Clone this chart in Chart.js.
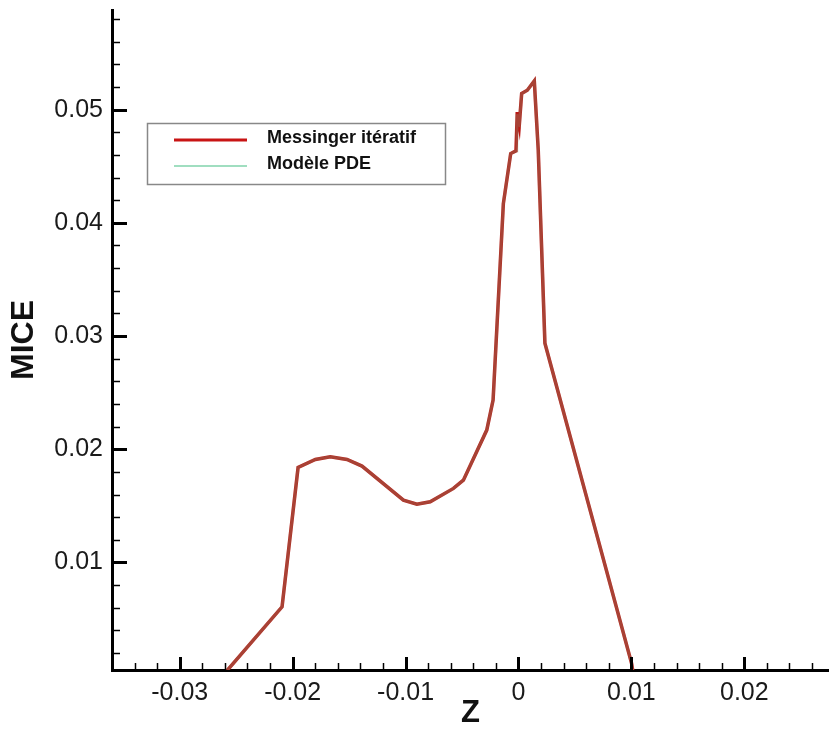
<meta charset="UTF-8">
<style>
    body { margin: 0; background: #fff; }
</style>

<canvas id="myChart" width="829" height="729"></canvas>

<script src="https://cdn.jsdelivr.net/npm/chart.js@4/dist/chart.umd.min.js"></script>

<script>
    // values
    var zMessinger = [-0.0262, -0.02094, -0.01952, -0.01799, -0.01667, -0.01519, -0.01386, -0.01019, -0.00900, -0.00782,
                      -0.00576, -0.00488, -0.00281, -0.00225, -0.00134, -0.00069, -0.00022, -0.00011, 0.00007, 0.00028,
                      0.00078, 0.00140, 0.00175, 0.00234, 0.01001, 0.0102];
    var miceMessinger = [0.0, 0.00608, 0.01839, 0.01910, 0.01933, 0.01910, 0.01851, 0.01551, 0.01515, 0.01536,
                         0.01654, 0.01727, 0.02169, 0.02434, 0.04170, 0.04612, 0.04635, 0.04979, 0.04862, 0.05142,
                         0.05171, 0.05253, 0.04641, 0.02937, 0.00111, 0.0];

    var zPDE = [-0.0262, -0.02094, -0.01952, -0.01799, -0.01667, -0.01519, -0.01386, -0.01019, -0.00900, -0.00782,
                -0.00576, -0.00488, -0.00281, -0.00225, -0.00134, -0.00069, -0.00022, -0.00014, -0.00008, 0.00007,
                0.00028, 0.00078, 0.00140, 0.00175, 0.00234, 0.01001, 0.0102];
    var micePDE = [0.0, 0.00608, 0.01839, 0.01910, 0.01933, 0.01910, 0.01851, 0.01551, 0.01515, 0.01536,
                   0.01654, 0.01727, 0.02169, 0.02434, 0.04170, 0.04612, 0.04635, 0.04960, 0.04870, 0.04862,
                   0.05142, 0.05171, 0.05253, 0.04641, 0.02937, 0.00111, 0.0];

    var xTickValues = [-0.03, -0.02, -0.01, 0, 0.01, 0.02];
    var yTickValues = [0.01, 0.02, 0.03, 0.04, 0.05];
    var seriesNames = ['Messinger itératif', 'Modèle PDE'];

    function toPoints(xs, ys) {
        return xs.map(function (x, i) { return {x: x, y: ys[i]}; });
    }

    // tecplot style inward ticks, major + minor
    var tickPlugin = {
        id: 'inwardTicks',
        afterDatasetsDraw: function (chart) {
            var ctx = chart.ctx;
            var xs = chart.scales.x, ys = chart.scales.y;
            var area = chart.chartArea;
            ctx.save();
            ctx.strokeStyle = '#000';
            for (var i = -18; i <= 13; i++) {
                var v = i * 0.002;
                if (v < xs.min || v > xs.max) continue;
                var px = Math.round(xs.getPixelForValue(v)) + 0.5;
                var major = (i % 5 === 0);
                ctx.lineWidth = major ? 3 : 1.5;
                ctx.beginPath();
                ctx.moveTo(px, area.bottom);
                ctx.lineTo(px, area.bottom - (major ? 13 : 7));
                ctx.stroke();
            }
            for (var j = 1; j <= 29; j++) {
                var w = j * 0.002;
                if (w < ys.min || w > ys.max) continue;
                var py = Math.round(ys.getPixelForValue(w)) + 0.5;
                var maj = (j % 5 === 0);
                ctx.lineWidth = maj ? 3 : 1.5;
                ctx.beginPath();
                ctx.moveTo(area.left, py);
                ctx.lineTo(area.left + (maj ? 15 : 8), py);
                ctx.stroke();
            }
            ctx.restore();
        }
    };

    // legend box placed inside the plot like the original
    var legendPlugin = {
        id: 'boxLegend',
        afterDraw: function (chart) {
            var ctx = chart.ctx;
            var colors = ['rgb(200,20,20)', 'rgb(160,222,192)'];
            var widths = [3, 2];
            var rows = [140, 166];
            ctx.save();
            ctx.fillStyle = '#fff';
            ctx.fillRect(147.5, 123.5, 298, 61);
            ctx.strokeStyle = '#888';
            ctx.lineWidth = 1.5;
            ctx.strokeRect(147.5, 123.5, 298, 61);
            ctx.font = 'bold 18px "Liberation Sans", Arial, sans-serif';
            ctx.textBaseline = 'middle';
            ctx.fillStyle = '#111';
            chart.data.datasets.forEach(function (ds, i) {
                ctx.strokeStyle = colors[i];
                ctx.lineWidth = widths[i];
                ctx.beginPath();
                ctx.moveTo(174, rows[i]);
                ctx.lineTo(247, rows[i]);
                ctx.stroke();
                ctx.fillText(ds.label, 267, rows[i] - 2);
            });
            ctx.restore();
        }
    };

    function displayChart() {
        var ctx = document.getElementById('myChart').getContext('2d');
        var chart = new Chart(ctx, {
            type: 'scatter',
            data: {
                datasets: [
                    {
                        label: seriesNames[0],
                        data: toPoints(zMessinger, miceMessinger),
                        showLine: true,
                        borderColor: 'rgb(185,25,20)',
                        borderWidth: 3.5,
                        pointRadius: 0,
                        order: 1
                    },
                    {
                        label: seriesNames[1],
                        data: toPoints(zPDE, micePDE),
                        showLine: true,
                        borderColor: 'rgba(120,190,150,0.25)',
                        borderWidth: 3,
                        pointRadius: 0,
                        order: 0
                    }
                ]
            },
            options: {
                responsive: false,
                animation: false,
                layout: { padding: { top: 10, right: 0, left: 0, bottom: 0 } },
                plugins: { legend: { display: false }, tooltip: { enabled: false } },
                scales: {
                    x: {
                        type: 'linear',
                        min: -0.036,
                        max: 0.0275,
                        afterFit: function (s) {
                            s.height = 59;
                            s.paddingLeft = 0;
                            s.paddingRight = 0;
                        },
                        afterBuildTicks: function (s) {
                            s.ticks = xTickValues.map(function (v) { return {value: v}; });
                        },
                        grid: { display: false, drawTicks: false },
                        border: { display: true, color: '#000', width: 3 },
                        ticks: {
                            padding: 8,
                            maxRotation: 0,
                            color: '#1a1a1a',
                            font: { family: '"Liberation Sans", Arial, sans-serif', size: 25 },
                            callback: function (v) { return v === 0 ? '0' : String(v); }
                        },
                        title: {
                            display: true,
                            text: 'Z',
                            color: '#111',
                            font: { family: '"Liberation Sans", Arial, sans-serif', size: 31, weight: 'bold', lineHeight: 1 },
                            padding: { top: 0, bottom: 0 }
                        }
                    },
                    y: {
                        type: 'linear',
                        min: 0.0005,
                        max: 0.0588,
                        afterFit: function (s) {
                            s.width = 112;
                            s.paddingTop = 0;
                            s.paddingBottom = 0;
                        },
                        afterBuildTicks: function (s) {
                            s.ticks = yTickValues.map(function (v) { return {value: v}; });
                        },
                        grid: { display: false, drawTicks: false },
                        border: { display: true, color: '#000', width: 3 },
                        ticks: {
                            padding: 9,
                            color: '#1a1a1a',
                            font: { family: '"Liberation Sans", Arial, sans-serif', size: 25 },
                            callback: function (v) { return String(v); }
                        },
                        title: {
                            display: true,
                            text: 'MICE',
                            color: '#111',
                            font: { family: '"Liberation Sans", Arial, sans-serif', size: 32, weight: 'bold', lineHeight: 1 },
                            padding: { top: 8, bottom: 0 }
                        }
                    }
                }
            },
            plugins: [tickPlugin, legendPlugin]
        });
    }
    displayChart();
</script>
